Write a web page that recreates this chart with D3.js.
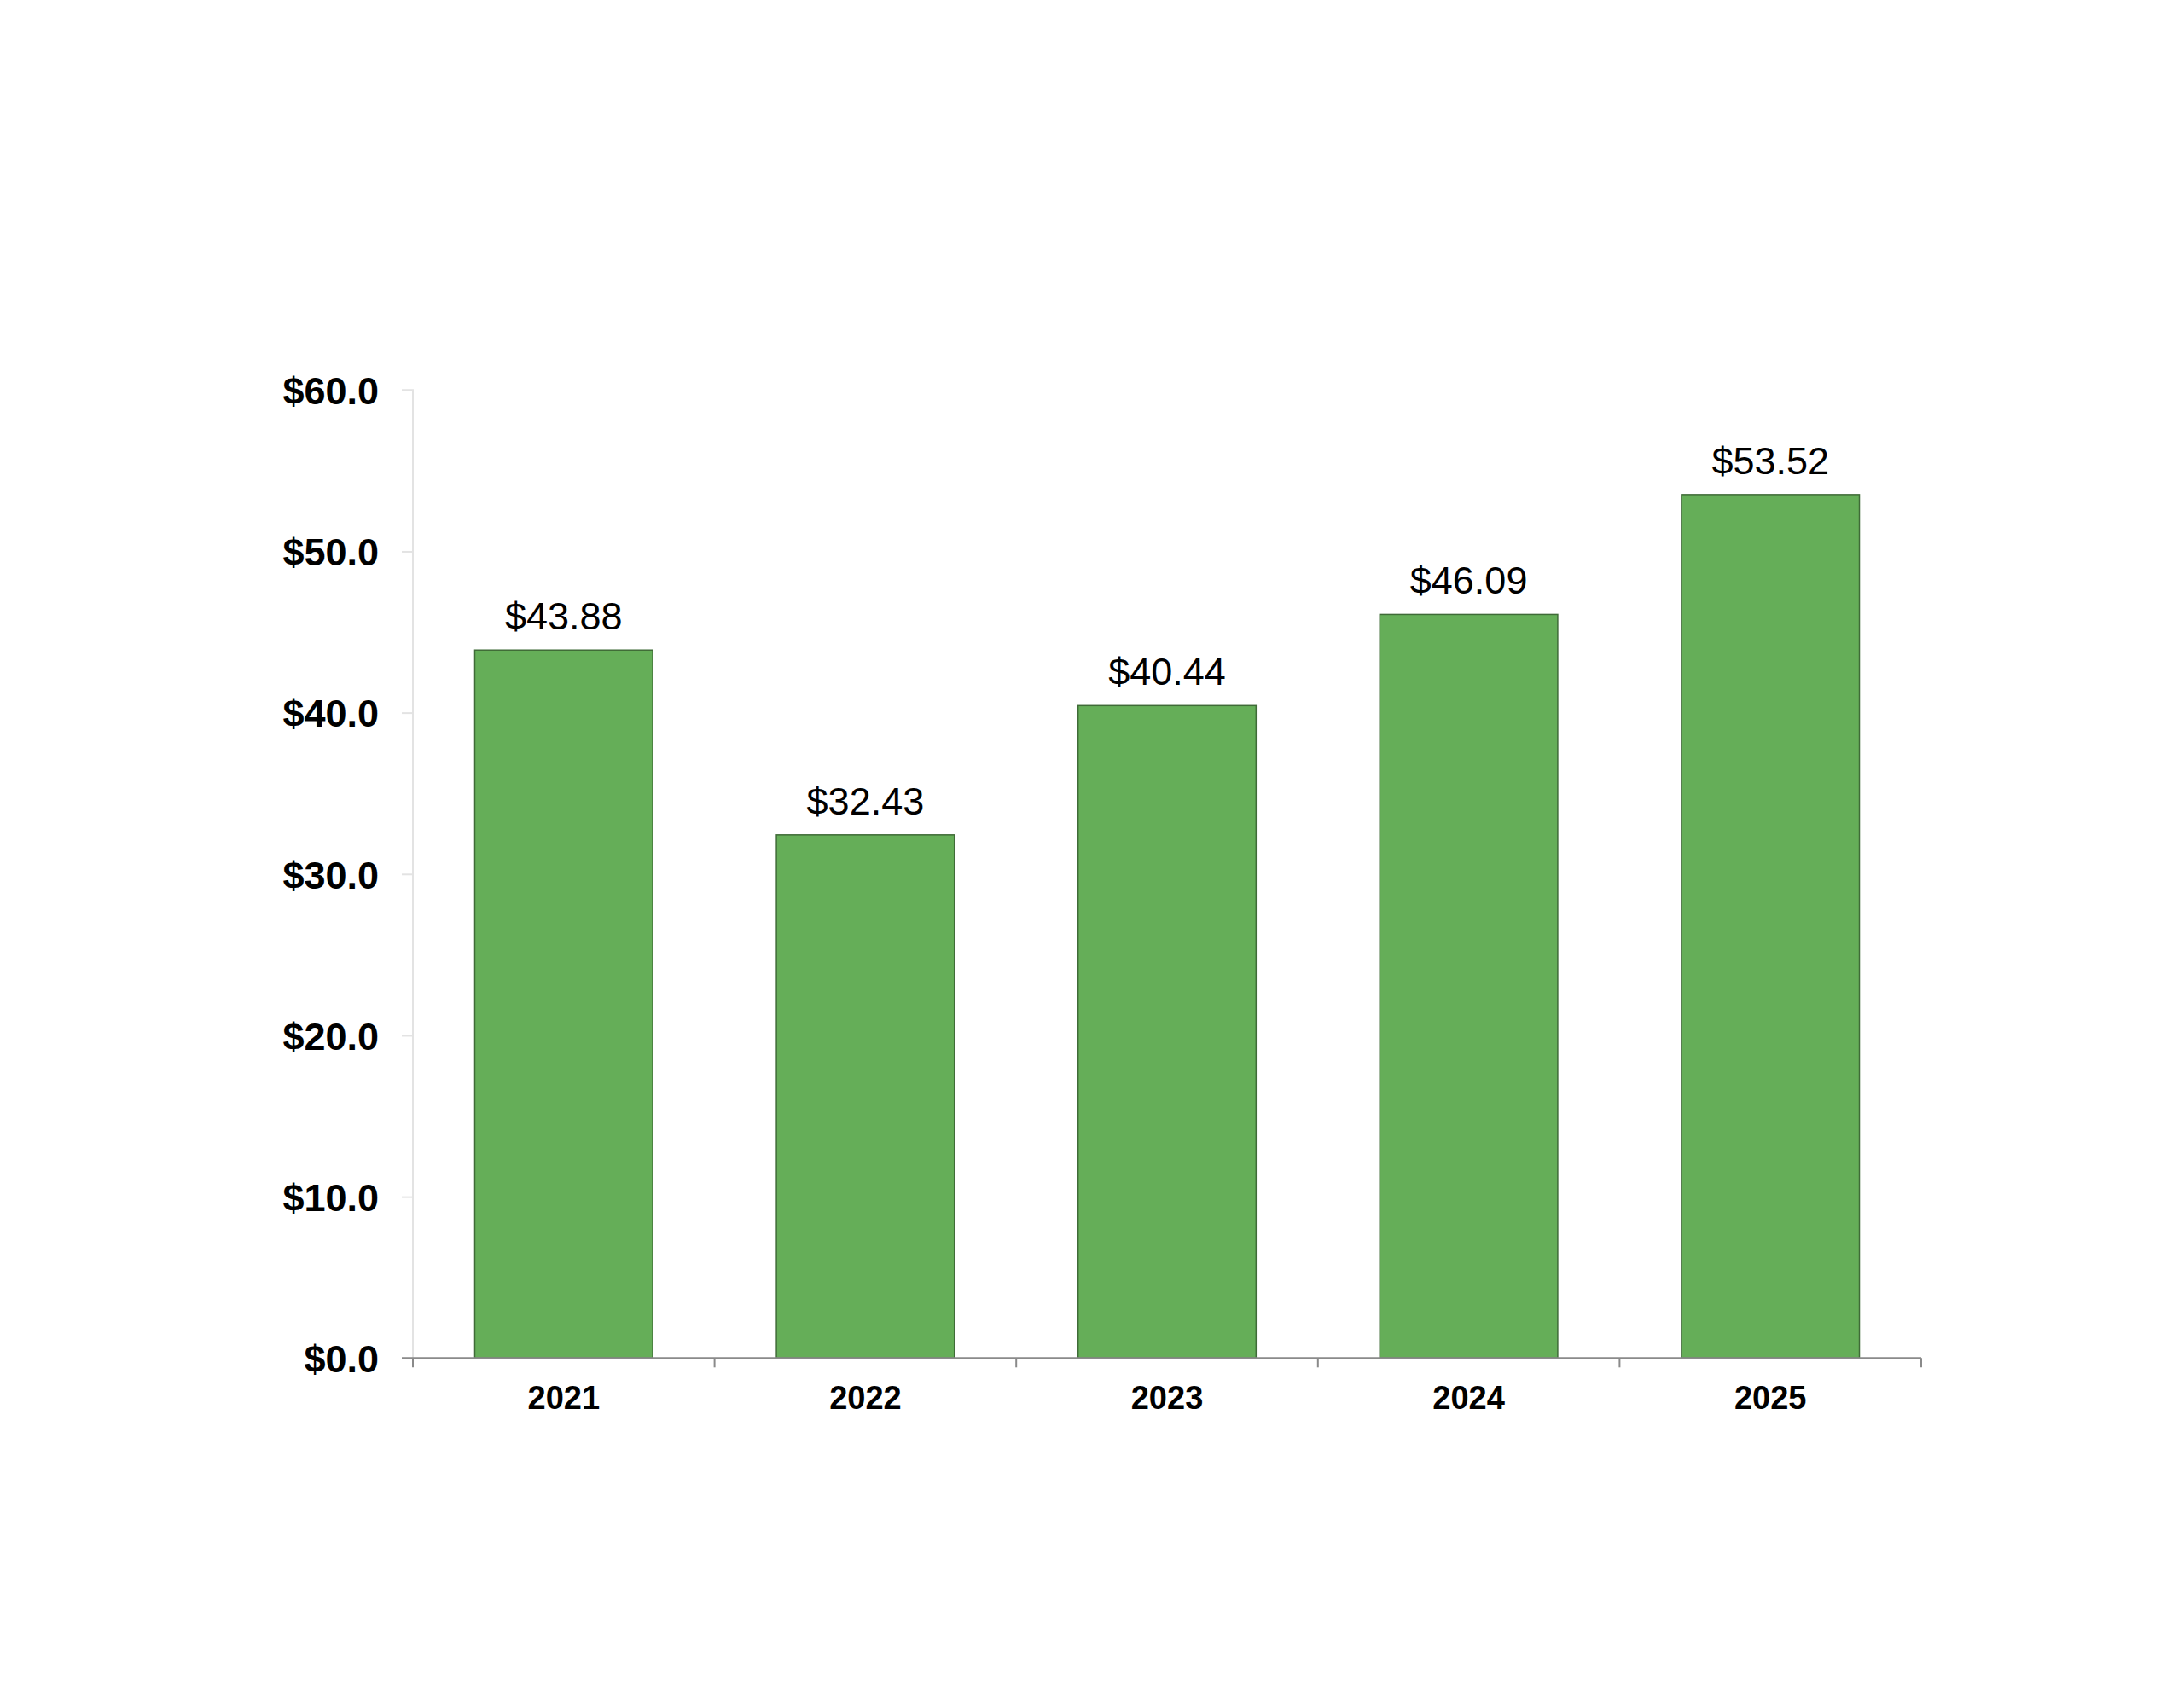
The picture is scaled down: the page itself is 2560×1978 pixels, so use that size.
<!DOCTYPE html>
<html>
<head>
<meta charset="utf-8">
<script src="https://cdn.jsdelivr.net/npm/d3@7"></script>
<style>
  html, body { margin: 0; padding: 0; background: #ffffff; }
  svg { display: block; }
</style>
</head>
<body>
<script>
const categories = ["2021", "2022", "2023", "2024", "2025"];
const values = [43.88, 32.43, 40.44, 46.09, 53.52];
const valueLabels = ["$43.88", "$32.43", "$40.44", "$46.09", "$53.52"];
const yTicks = [0, 10, 20, 30, 40, 50, 60];
const yTickLabels = ["$0.0", "$10.0", "$20.0", "$30.0", "$40.0", "$50.0", "$60.0"];

(function () {
const W = 2560, H = 1978;
const pLeft = 484, pRight = 2252, pTop = 457.3, pBottom = 1592.3;
const font = "'Liberation Sans', Arial, Helvetica, sans-serif";

const svg = d3.select("body").append("svg").attr("width", W).attr("height", H);

const x = d3.scaleBand().domain(categories).range([pLeft, pRight]).paddingInner(0.41).paddingOuter(0.205);
const y = d3.scaleLinear().domain([0, 60]).range([pBottom, pTop]);

// Y axis
const yAxis = svg.append("g").attr("transform", `translate(${pLeft},0)`)
  .call(d3.axisLeft(y).tickValues(yTicks).tickSize(13).tickPadding(27)
    .tickFormat((d, i) => yTickLabels[i]));
yAxis.select(".domain").attr("stroke", "#e3e3e3").attr("stroke-width", 2)
  .attr("d", `M-13,${pTop}H0V${pBottom}`);
yAxis.selectAll(".tick line").attr("stroke", "#e3e3e3").attr("stroke-width", 2);
yAxis.selectAll(".tick text").attr("font-family", font).attr("font-size", 45)
  .attr("font-weight", "bold").attr("fill", "#000").attr("dy", "0.36em");

// Bars
svg.append("g").selectAll("rect").data(values).join("rect")
  .attr("x", (d, i) => x(categories[i]))
  .attr("y", d => y(d))
  .attr("width", x.bandwidth())
  .attr("height", d => pBottom - y(d))
  .attr("fill", "#65ae58")
  .attr("stroke", "#3f6b37")
  .attr("stroke-width", 1.5);

// Value labels
svg.append("g").selectAll("text").data(values).join("text")
  .attr("x", (d, i) => x(categories[i]) + x.bandwidth() / 2)
  .attr("y", d => y(d) - 24)
  .attr("text-anchor", "middle")
  .attr("font-family", font).attr("font-size", 45).attr("fill", "#000")
  .text((d, i) => valueLabels[i]);

// X axis
const xAxis = svg.append("g").attr("transform", `translate(0,${pBottom})`)
  .call(d3.axisBottom(x).tickSize(0).tickPadding(33));
xAxis.select(".domain").attr("stroke", "#8a8a8a").attr("stroke-width", 2)
  .attr("d", `M${pLeft - 13},0H${pRight}`);
xAxis.selectAll(".tick text").attr("font-family", font).attr("font-size", 38)
  .attr("font-weight", "bold").attr("fill", "#000");

// Category boundary ticks
const bounds = d3.range(categories.length + 1).map(i => pLeft + i * x.step());
svg.append("g").selectAll("line").data(bounds).join("line")
  .attr("x1", d => d).attr("x2", d => d)
  .attr("y1", pBottom).attr("y2", pBottom + 11)
  .attr("stroke", "#8a8a8a").attr("stroke-width", 2);
})();
</script>
</body>
</html>
